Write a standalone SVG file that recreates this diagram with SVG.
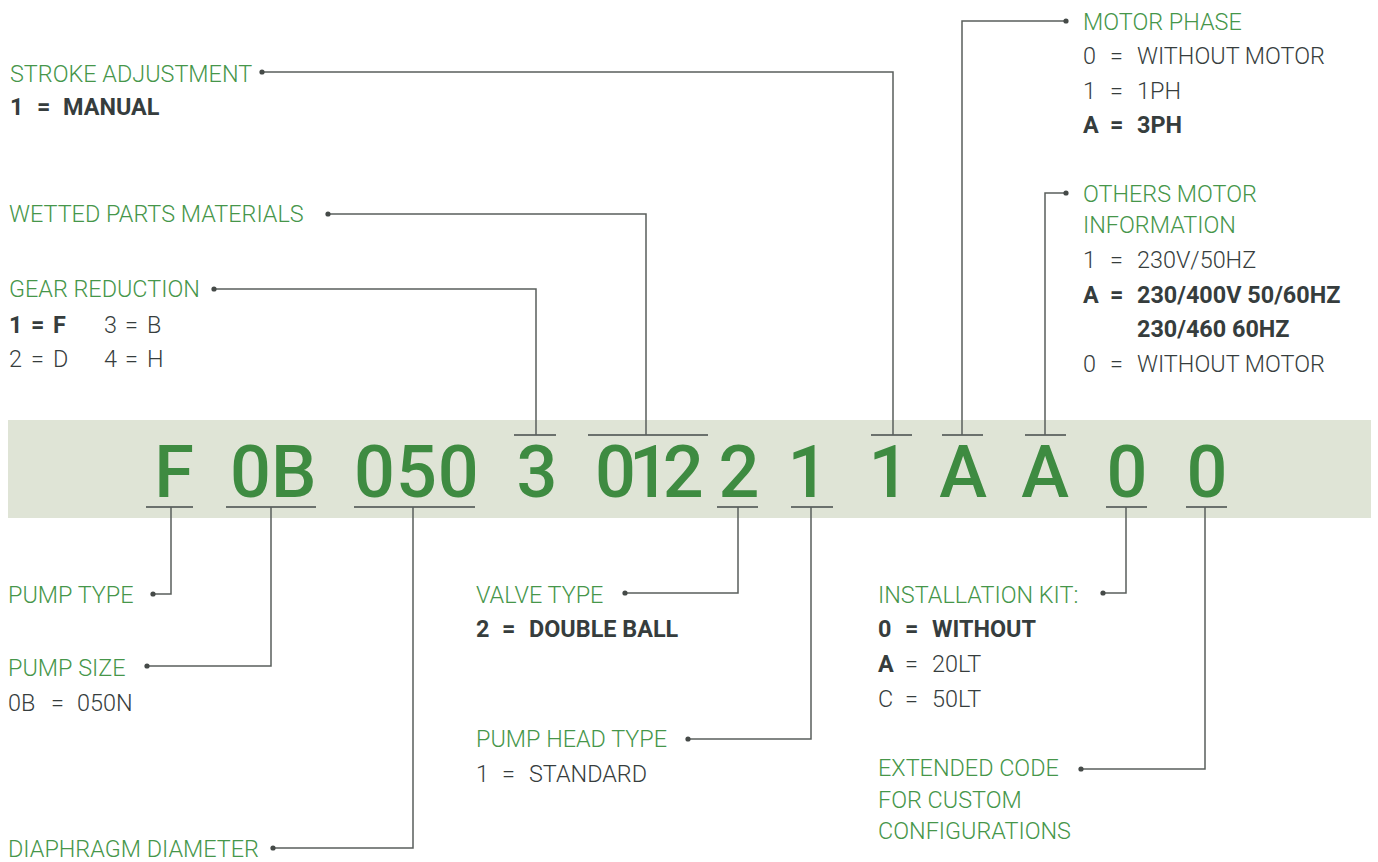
<svg xmlns="http://www.w3.org/2000/svg" width="1378" height="862" viewBox="0 0 1378 862">
<style>
.lbl{font-family:Roboto,"Liberation Sans",sans-serif;font-size:23.4px;font-weight:300;fill:#46964a}
.val{font-family:Roboto,"Liberation Sans",sans-serif;font-size:23.4px;font-weight:300;fill:#363d3d}
.b{font-weight:700}
.code{font-family:Roboto,"Liberation Sans",sans-serif;font-size:72px;font-weight:500;fill:#3e8b41;text-anchor:middle}
.cs{text-anchor:start}
.ln{fill:none;stroke:#5a5f5c;stroke-width:1.5}
.bar{stroke:#6b716d;stroke-width:2}
.dot{fill:#454a48}
</style>
<rect x="8" y="420" width="1363" height="98" fill="#dfe4d6"/>
<g id="code">
<text class="code" x="174" y="497">F</text>
<text class="code cs" x="230" y="497">0B</text>
<text class="code cs" x="354" y="497" letter-spacing="1">050</text>
<text class="code" x="537" y="497">3</text>
<text class="code cs" x="595" y="497" letter-spacing="-7">012</text>
<text class="code" x="739" y="497">2</text>
<text class="code" x="808" y="497">1</text>
<text class="code" x="889" y="497">1</text>
<text class="code" x="963" y="497">A</text>
<text class="code" x="1045" y="497">A</text>
<text class="code" x="1127" y="497">0</text>
<text class="code" x="1207" y="497">0</text>
</g>
<g id="bars">
<line class="bar" x1="514" y1="435" x2="556" y2="435"/>
<line class="bar" x1="588" y1="435" x2="708" y2="435"/>
<line class="bar" x1="871" y1="435" x2="912" y2="435"/>
<line class="bar" x1="942" y1="435" x2="983" y2="435"/>
<line class="bar" x1="1025" y1="435" x2="1066" y2="435"/>
<line class="bar" x1="146" y1="507" x2="193" y2="507"/>
<line class="bar" x1="226" y1="507" x2="316" y2="507"/>
<line class="bar" x1="354" y1="507" x2="475" y2="507"/>
<line class="bar" x1="717" y1="507" x2="758" y2="507"/>
<line class="bar" x1="791" y1="507" x2="833" y2="507"/>
<line class="bar" x1="1106" y1="507" x2="1147" y2="507"/>
<line class="bar" x1="1186" y1="507" x2="1227" y2="507"/>
</g>
<g id="connectors">
<polyline class="ln" points="262,72 893,72 893,435"/>
<polyline class="ln" points="328,214 646,214 646,435"/>
<polyline class="ln" points="214,289 536,289 536,435"/>
<polyline class="ln" points="1066,21 962,21 962,435"/>
<polyline class="ln" points="1066,193 1045,193 1045,435"/>
<polyline class="ln" points="153,594 171,594 171,507"/>
<polyline class="ln" points="147,666 271,666 271,507"/>
<polyline class="ln" points="273,848 413,848 413,507"/>
<polyline class="ln" points="625,593 738,593 738,507"/>
<polyline class="ln" points="688,739 811,739 811,507"/>
<polyline class="ln" points="1103,593 1126,593 1126,507"/>
<polyline class="ln" points="1081,769 1205,769 1205,507"/>
<circle class="dot" cx="262" cy="72" r="2.6"/>
<circle class="dot" cx="328" cy="214" r="2.6"/>
<circle class="dot" cx="214" cy="289" r="2.6"/>
<circle class="dot" cx="1066" cy="21" r="2.6"/>
<circle class="dot" cx="1066" cy="193" r="2.6"/>
<circle class="dot" cx="153" cy="594" r="2.6"/>
<circle class="dot" cx="147" cy="666" r="2.6"/>
<circle class="dot" cx="273" cy="848" r="2.6"/>
<circle class="dot" cx="625" cy="593" r="2.6"/>
<circle class="dot" cx="688" cy="739" r="2.6"/>
<circle class="dot" cx="1103" cy="593" r="2.6"/>
<circle class="dot" cx="1081" cy="769" r="2.6"/>
</g>
<g id="stroke-adjustment">
<text class="lbl" x="10" y="82">STROKE ADJUSTMENT</text>
<text class="val b" x="10" y="115">1</text><text class="val b" x="37" y="115">=</text><text class="val b" x="63" y="115">MANUAL</text>
</g>
<g id="wetted-parts">
<text class="lbl" x="9" y="222">WETTED PARTS MATERIALS</text>
</g>
<g id="gear-reduction">
<text class="lbl" x="9" y="297">GEAR REDUCTION</text>
<text class="val b" x="9" y="333">1</text><text class="val b" x="31" y="333">=</text><text class="val b" x="53" y="333">F</text>
<text class="val" x="104" y="333">3</text><text class="val" x="125" y="333">=</text><text class="val" x="147" y="333">B</text>
<text class="val" x="9" y="367">2</text><text class="val" x="31" y="367">=</text><text class="val" x="53" y="367">D</text>
<text class="val" x="104" y="367">4</text><text class="val" x="125" y="367">=</text><text class="val" x="147" y="367">H</text>
</g>
<g id="motor-phase">
<text class="lbl" x="1083" y="30">MOTOR PHASE</text>
<text class="val" x="1083" y="64">0</text><text class="val" x="1110" y="64">=</text><text class="val" x="1137" y="64">WITHOUT MOTOR</text>
<text class="val" x="1083" y="99">1</text><text class="val" x="1110" y="99">=</text><text class="val" x="1137" y="99">1PH</text>
<text class="val b" x="1083" y="133">A</text><text class="val b" x="1110" y="133">=</text><text class="val b" x="1137" y="133">3PH</text>
</g>
<g id="others-motor">
<text class="lbl" x="1083" y="202">OTHERS MOTOR</text>
<text class="lbl" x="1083" y="233">INFORMATION</text>
<text class="val" x="1083" y="268">1</text><text class="val" x="1110" y="268">=</text><text class="val" x="1137" y="268">230V/50HZ</text>
<text class="val b" x="1083" y="303">A</text><text class="val b" x="1110" y="303">=</text><text class="val b" x="1137" y="303">230/400V 50/60HZ</text>
<text class="val b" x="1137" y="337">230/460 60HZ</text>
<text class="val" x="1083" y="372">0</text><text class="val" x="1110" y="372">=</text><text class="val" x="1137" y="372">WITHOUT MOTOR</text>
</g>
<g id="pump-type">
<text class="lbl" x="8" y="603">PUMP TYPE</text>
</g>
<g id="pump-size">
<text class="lbl" x="8" y="676">PUMP SIZE</text>
<text class="val" x="8" y="711">0B</text><text class="val" x="51" y="711">=</text><text class="val" x="77" y="711">050N</text>
</g>
<g id="diaphragm">
<text class="lbl" x="8" y="857">DIAPHRAGM DIAMETER</text>
</g>
<g id="valve-type">
<text class="lbl" x="476" y="603">VALVE TYPE</text>
<text class="val b" x="476" y="637">2</text><text class="val b" x="502" y="637">=</text><text class="val b" x="529" y="637">DOUBLE BALL</text>
</g>
<g id="pump-head">
<text class="lbl" x="476" y="747">PUMP HEAD TYPE</text>
<text class="val" x="476" y="782">1</text><text class="val" x="502" y="782">=</text><text class="val" x="529" y="782">STANDARD</text>
</g>
<g id="installation-kit">
<text class="lbl" x="878" y="603">INSTALLATION KIT:</text>
<text class="val b" x="878" y="637">0</text><text class="val b" x="905" y="637">=</text><text class="val b" x="932" y="637">WITHOUT</text>
<text class="val b" x="878" y="672">A</text><text class="val" x="905" y="672">=</text><text class="val" x="932" y="672">20LT</text>
<text class="val" x="878" y="707">C</text><text class="val" x="905" y="707">=</text><text class="val" x="932" y="707">50LT</text>
</g>
<g id="extended-code">
<text class="lbl" x="878" y="776">EXTENDED CODE</text>
<text class="lbl" x="878" y="808">FOR CUSTOM</text>
<text class="lbl" x="878" y="839">CONFIGURATIONS</text>
</g>
</svg>
